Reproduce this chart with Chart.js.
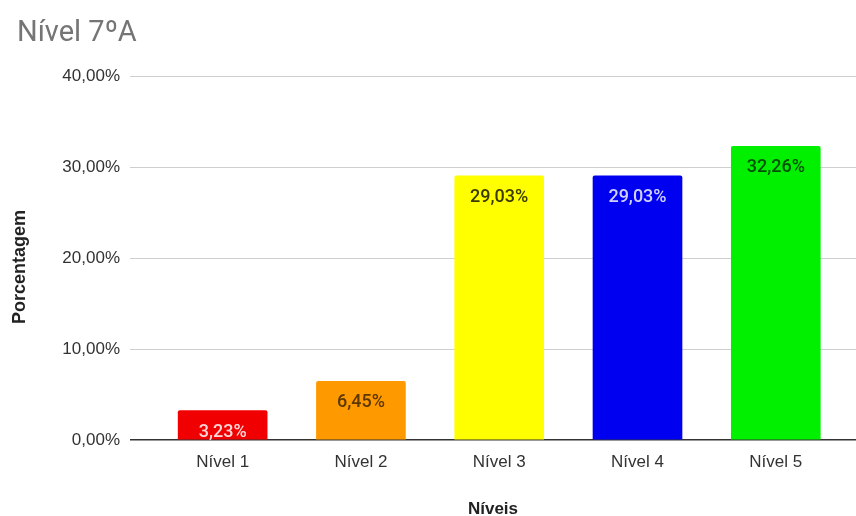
<!DOCTYPE html>
<html>
<head>
<meta charset="utf-8">
<script src="https://cdn.jsdelivr.net/npm/chart.js@4.4.1/dist/chart.umd.min.js"></script>
<style>
  html, body { margin: 0; padding: 0; background: #fff; }
  canvas { display: block; }
</style>
</head>
<body>
<canvas id="nivelChart" width="856" height="516"></canvas>
<script>
var categories = ['Nível 1', 'Nível 2', 'Nível 3', 'Nível 4', 'Nível 5'];
var values = [3.23, 6.45, 29.03, 29.03, 32.26];
var barColors = ['#f00000', '#ff9900', '#ffff00', '#0000f0', '#00f000'];
var labelColors = ['#ffd8d8', '#5c3800', '#3a3a00', '#d0d0ff', '#005000'];
var yTicks = [0, 10, 20, 30, 40];

function fmt(v) {
    return v.toFixed(2).replace('.', ',') + '%';
}

// chart title and y axis title
var titlePlugin = {
    id: 'sheetTitle',
    afterDraw: function (chart) {
        var ctx = chart.ctx;
        ctx.save();
        ctx.font = '29px Roboto';
        ctx.fillStyle = '#757575';
        ctx.textAlign = 'left';
        ctx.textBaseline = 'alphabetic';
        ctx.fillText('Nível 7ºA', 17, 41);
        ctx.translate(20, 267);
        ctx.rotate(-Math.PI / 2);
        ctx.font = 'bold 18px "Liberation Sans"';
        ctx.fillStyle = '#222';
        ctx.textAlign = 'center';
        ctx.textBaseline = 'middle';
        ctx.fillText('Porcentagem', 0, 0);
        ctx.restore();
    }
};

// value labels inside the top of each bar
var barLabels = {
    id: 'barLabels',
    afterDatasetsDraw: function (chart) {
        var ctx = chart.ctx;
        var meta = chart.getDatasetMeta(0);
        ctx.save();
        ctx.font = '500 18px Roboto';
        ctx.textAlign = 'center';
        ctx.textBaseline = 'alphabetic';
        meta.data.forEach(function (bar, i) {
            ctx.fillStyle = labelColors[i];
            ctx.fillText(fmt(values[i]), bar.x, bar.y + 26);
        });
        ctx.restore();
    }
};

var ctx = document.getElementById('nivelChart').getContext('2d');
new Chart(ctx, {
    type: 'bar',
    data: {
        datasets: [{
            data: values.map(function (v, i) { return {x: i, y: v}; }),
            backgroundColor: barColors,
            borderRadius: 2,
            borderSkipped: 'bottom',
            barThickness: 89
        }]
    },
    options: {
        responsive: false,
        animation: false,
        layout: {padding: {top: 76, left: 0, right: 0, bottom: 0}},
        plugins: {legend: {display: false}, tooltip: {enabled: false}, title: {display: false}},
        scales: {
            x: {
                type: 'linear',
                offset: false,
                min: -0.67,
                max: 4.58,
                grid: {display: false, drawTicks: false},
                border: {display: false},
                afterBuildTicks: function (scale) {
                    scale.ticks = categories.map(function (c, i) { return {value: i}; });
                },
                afterFit: function (scale) { scale.height = 76; },
                ticks: {
                    padding: 12,
                    color: '#333',
                    font: {family: 'Liberation Sans', size: 17},
                    callback: function (v) { return categories[v]; }
                },
                title: {
                    display: true,
                    text: 'Níveis',
                    color: '#222',
                    font: {family: 'Liberation Sans', size: 17, weight: 'bold'},
                    padding: {top: 0, bottom: -4}
                }
            },
            y: {
                min: 0,
                max: 40,
                afterBuildTicks: function (scale) {
                    scale.ticks = yTicks.map(function (v) { return {value: v}; });
                },
                afterFit: function (scale) { scale.width = 130; },
                grid: {
                    drawTicks: false,
                    color: function (c) { return c.tick && c.tick.value === 0 ? '#333' : '#cfcfcf'; },
                    lineWidth: function (c) { return c.tick && c.tick.value === 0 ? 1.5 : 1; }
                },
                border: {display: false},
                ticks: {
                    padding: 10,
                    color: '#333',
                    font: {family: 'Liberation Sans', size: 17},
                    callback: function (v) { return fmt(v); }
                }
            }
        }
    },
    plugins: [titlePlugin, barLabels]
});
</script>
</body>
</html>
